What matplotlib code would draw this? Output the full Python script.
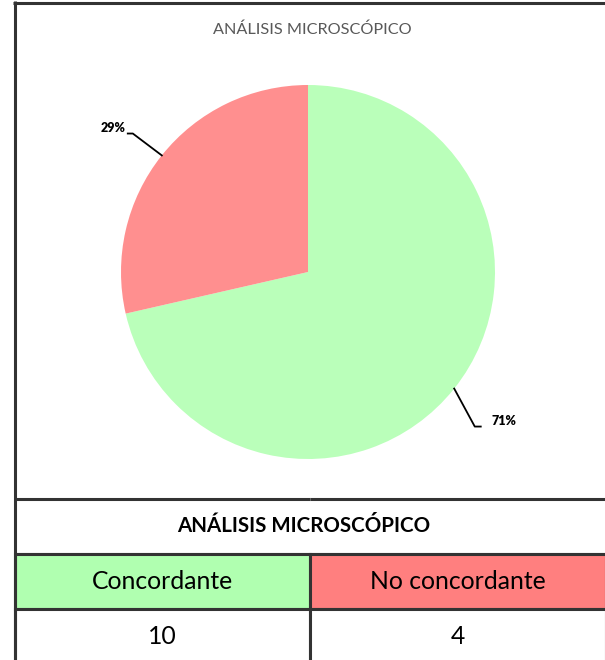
import numpy as np
import matplotlib.pyplot as plt

# Datos
chart_title = "ANÁLISIS MICROSCÓPICO"
categories = ["Concordante", "No concordante"]
counts = [10, 4]
pie_colors = ["#BAFFBA", "#FF8F8F"]
cell_colors = ["#B0FFB0", "#FF7F7F"]

plt.rcParams['font.family'] = ['Lato', 'DejaVu Sans']

W, H = 605, 660
fig = plt.figure(figsize=(W / 100, H / 100), dpi=100)

# Eje de fondo en pixeles (bordes y tabla)
bg = fig.add_axes([0, 0, 1, 1])
bg.set_xlim(0, W)
bg.set_ylim(H, 0)
bg.axis('off')

border = '#333333'
bg.plot([14.7, 14.7], [1, H], color=border, lw=2.2, solid_capstyle='butt')
bg.plot([13.2, W], [2.7, 2.7], color=border, lw=2.2, solid_capstyle='butt')

# Titulo del grafico
bg.text(312, 30, chart_title, ha='center', va='center', fontsize=11.7,
        color='#595959')

# Grafico circular
cx, cy, r = 308, 272, 187
pie_ax = fig.add_axes([(cx - r) / W, (H - cy - r) / H, 2 * r / W, 2 * r / H])
wedges, _ = pie_ax.pie(counts, colors=pie_colors, startangle=90,
                       counterclock=False, radius=1)
pie_ax.set_xlim(-1, 1)
pie_ax.set_ylim(-1, 1)
pie_ax.axis('off')

total = sum(counts)
# desplazamientos del codo de la linea guia y del texto (en radios)
elbow_off = [(0.11, -0.203), (-0.155, 0.117)]
tail_len = [0.032, -0.027]
text_gap = [0.055, -0.012]
for w, n, eo, tl, tg in zip(wedges, counts, elbow_off, tail_len, text_gap):
    ang = np.deg2rad((w.theta1 + w.theta2) / 2)
    ex, ey = np.cos(ang), np.sin(ang)
    kx, ky = ex + eo[0], ey + eo[1]
    tx = kx + tl
    pie_ax.plot([ex, kx, tx], [ey, ky, ky], color='black', lw=1.3,
                clip_on=False)
    pie_ax.text(tx + tg, ky + 0.03, f"{n / total:.0%}",
                ha='left' if tl > 0 else 'right', va='center',
                fontsize=9, fontweight='heavy', clip_on=False)

# Tabla inferior
top, bottom = 498.5, 664
left, right = 14.7, 606
cell_text = [["", ""], categories, [str(c) for c in counts]]
colours = [["white", "white"], cell_colors, ["white", "white"]]
tbl = bg.table(cellText=cell_text, cellColours=colours, cellLoc='center',
               bbox=[left / W, (H - bottom) / H, (right - left) / W,
                     (bottom - top) / H])
tbl.auto_set_font_size(False)
for (row, col), cell in tbl.get_celld().items():
    cell.set_edgecolor(border)
    cell.set_linewidth(2.2)
    cell.get_text().set_fontsize(17.8)
    if row == 0:
        cell.visible_edges = 'BT'

bg.text(304, 525.5, chart_title, ha='center', va='center', fontsize=14.8,
        fontweight='bold')

fig.savefig("out.png", dpi=100)
